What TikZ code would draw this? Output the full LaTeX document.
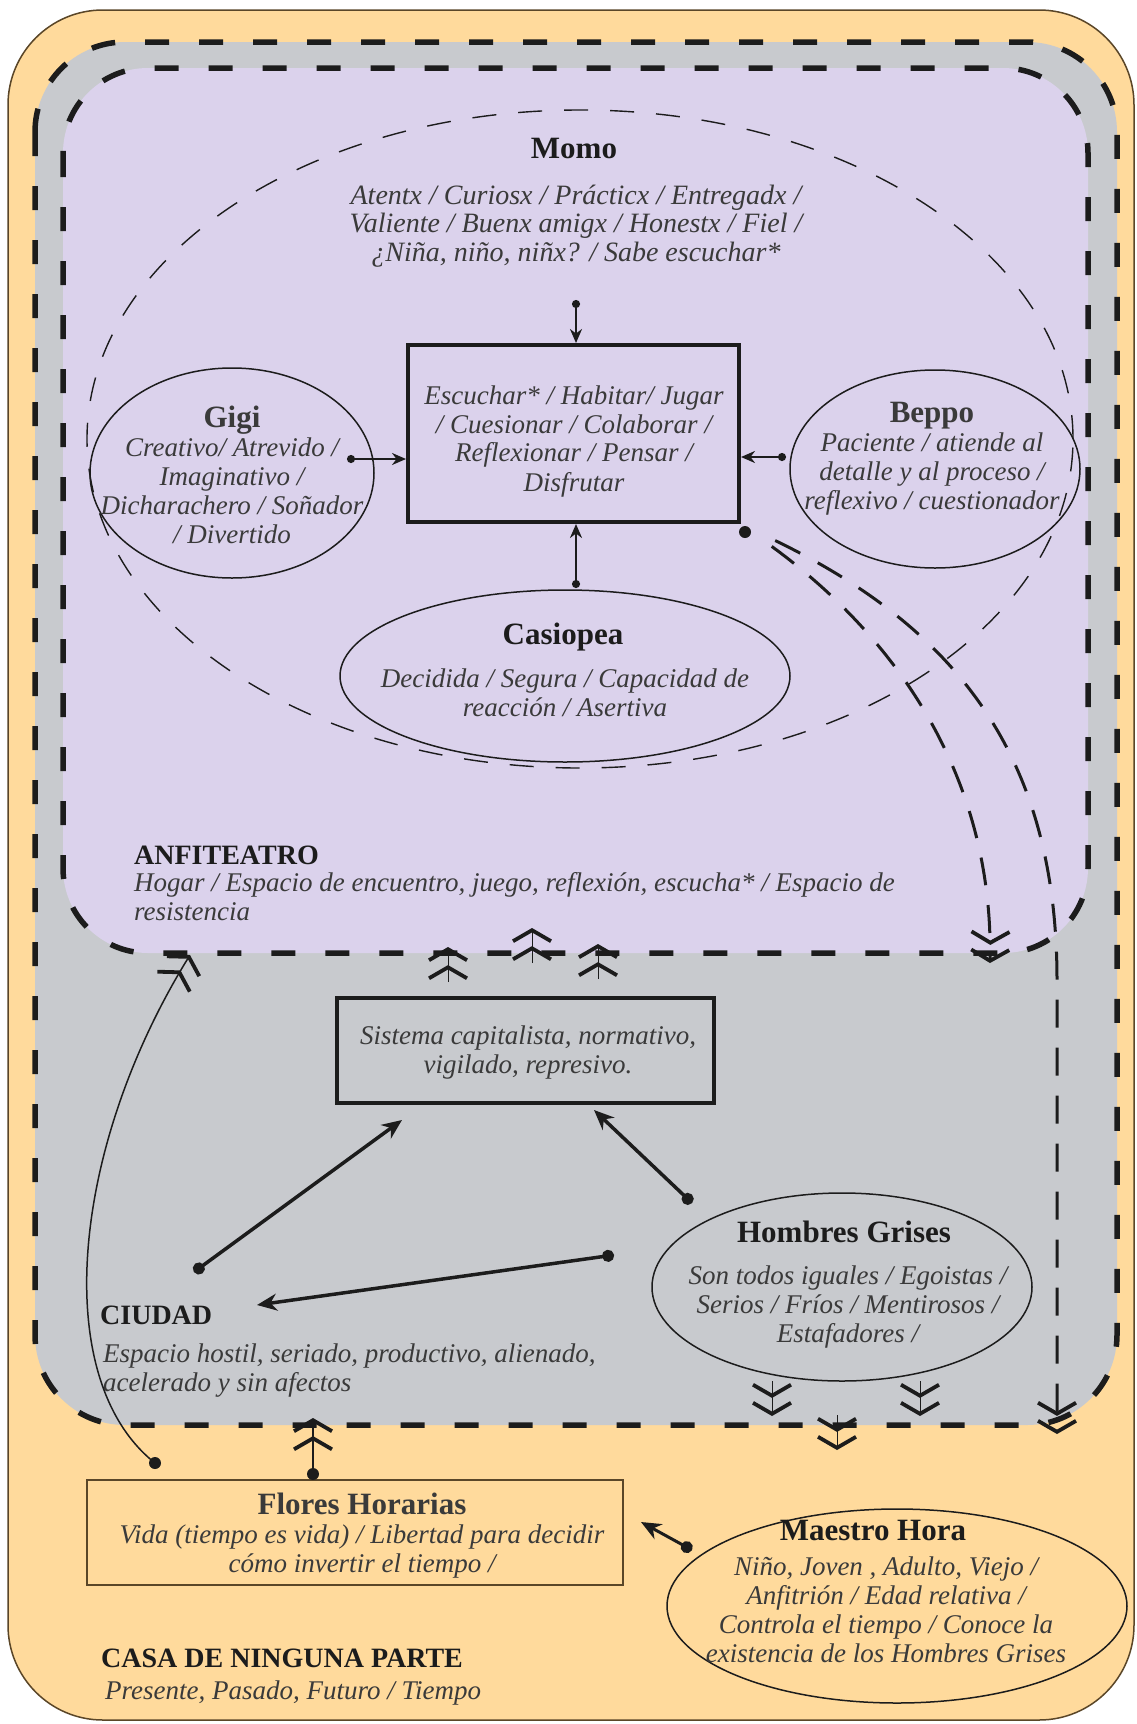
\documentclass[tikz,border=0pt]{standalone}
\usepackage{fontspec}
\setmainfont{Liberation Serif}
\usetikzlibrary{arrows.meta,shapes.geometric}
\definecolor{casa}{RGB}{255,218,156}
\definecolor{ciudadc}{RGB}{200,202,206}
\definecolor{anfi}{RGB}{219,210,236}
\definecolor{ink}{RGB}{28,28,28}
\definecolor{soft}{RGB}{58,58,58}
\definecolor{brownline}{RGB}{90,70,40}
\newcommand{\mybody}{\fontsize{27}{29}\selectfont\itshape}
\newcommand{\myname}{\fontsize{31}{33}\selectfont\bfseries\upshape}
\newcommand{\mycap}{\fontsize{28}{30}\selectfont\bfseries\upshape}
\tikzset{
  region/.style={draw=ink, line width=5.5pt, dash pattern=on 24pt off 30pt},
  emptyell/.style={ellipse, draw=ink, line width=1.5pt, inner sep=0pt},
  bodytxt/.style={font=\mybody, text=soft, align=center, inner sep=0pt},
  nametxt/.style={font=\myname, text=ink, inner sep=0pt},
  captxt/.style={font=\mycap, text=ink, inner sep=0pt, anchor=west},
  leftbody/.style={font=\mybody, text=soft, align=left, inner sep=0pt, anchor=west},
  thickbox/.style={rectangle, draw=ink, line width=4pt, inner sep=0pt},
  sarrow/.style={draw=ink, line width=2.5pt, {Circle[length=8pt]}-{Stealth[length=14pt,width=12pt]}},
  barrow/.style={draw=ink, line width=3.5pt, {Circle[length=12pt]}-{Stealth[length=20pt,width=17pt]}},
  chevs/.style={-{Straight Barb[length=11pt,width=38pt,line width=3.8pt,sep=3pt]Straight Barb[length=11pt,width=38pt,line width=3.8pt]}},
  stub/.style={draw=ink, line width=0.1pt, chevs},
  dcurve/.style={draw=ink, line width=3pt, dash pattern=on 28pt off 20pt},
}
\begin{document}
\begin{tikzpicture}[x=1pt,y=-1pt]
\useasboundingbox (0,0) rectangle (1136,1724);
\fill[white] (0,0) rectangle (1136,1724);
% regions
\draw[fill=casa, draw=brownline, line width=1.5pt, rounded corners=95pt] (8,10) rectangle (1134,1720);
\fill[ciudadc, rounded corners=90pt] (35,42) rectangle (1117,1425);
\fill[anfi, rounded corners=85pt] (63,68) rectangle (1088,953);
\draw[region, rounded corners=90pt] (35,42) rectangle (1117,1425);
\draw[region, rounded corners=85pt] (63,68) rectangle (1088,953);

% Momo
\node[emptyell, minimum width=986pt, minimum height=658pt, line width=1.4pt, dash pattern=on 24pt off 22pt] (momo) at (580,439) {};
\node[nametxt] (momot) at (574,148) {Momo};
\node[bodytxt, font=\fontsize{28}{28.5}\selectfont\itshape] (momotxt) at (576,226) {Atentx / Curiosx / Prácticx / Entregadx /\\ Valiente / Buenx amigx / Honestx / Fiel /\\ ¿Niña, niño, niñx? / Sabe escuchar*};

% central box
\node[thickbox, minimum width=331pt, minimum height=177pt] (act) at (573.5,433.5) {};
\node[bodytxt] (acttxt) at (574,441) {Escuchar* / Habitar/ Jugar\\ / Cuesionar / Colaborar /\\ Reflexionar / Pensar /\\ Disfrutar};

% Gigi
\node[emptyell, minimum width=284pt, minimum height=210pt] (gigi) at (232,473) {};
\node[bodytxt] (gigitxt) at (232,475) {{\myname Gigi}\\ Creativo/ Atrevido /\\ Imaginativo /\\ Dicharachero / Soñador\\ / Divertido};

% Beppo
\node[emptyell, minimum width=290pt, minimum height=198pt] (beppo) at (935,469) {};
\node[bodytxt] (beppotxt) at (932,459) {{\myname Beppo}\\ Paciente / atiende al\\ detalle y al proceso /\\ reflexivo / cuestionador};

% Casiopea
\node[emptyell, minimum width=450pt, minimum height=172pt] (casio) at (565,676) {};
\node[nametxt] (casiot) at (563,637) {Casiopea};
\node[bodytxt] (casiotxt) at (565,693) {Decidida / Segura / Capacidad de\\ reacción / Asertiva};

% ANFITEATRO
\node[captxt] (anfit) at (134,855) {ANFITEATRO};
\node[leftbody] (anfitxt) at (134,897) {Hogar / Espacio de encuentro, juego, reflexión, escucha* / Espacio de\\ resistencia};

% Sistema
\node[thickbox, minimum width=377pt, minimum height=105pt] (sis) at (525.5,1050.5) {};
\node[bodytxt] (sistxt) at (528,1052) {Sistema capitalista, normativo,\\ vigilado, represivo.};

% Hombres Grises
\node[emptyell, minimum width=380pt, minimum height=188pt] (hg) at (842,1287) {};
\node[nametxt] (hgt) at (844,1232) {Hombres Grises};
\node[bodytxt] (hgtxt) at (848,1307) {Son todos iguales / Egoistas /\\ Serios / Fríos / Mentirosos /\\ Estafadores /};

% CIUDAD
\node[captxt] (ciut) at (100,1315) {CIUDAD};
\node[leftbody] (ciutxt) at (103,1371) {Espacio hostil, seriado, productivo, alienado,\\ acelerado y sin afectos};

% Flores Horarias
\node[rectangle, draw=brownline, line width=2pt, minimum width=536pt, minimum height=105pt, inner sep=0pt] (flo) at (355,1532.5) {};
\node[bodytxt] (flotxt) at (362,1536) {{\myname Flores Horarias}\\ Vida (tiempo es vida) / Libertad para decidir\\ cómo invertir el tiempo /};

% Maestro Hora
\node[emptyell, minimum width=460pt, minimum height=194pt] (mh) at (897,1606) {};
\node[nametxt] (mht) at (873,1530) {Maestro Hora};
\node[bodytxt] (mhtxt) at (886,1610) {Niño, Joven , Adulto, Viejo /\\ Anfitrión / Edad relativa /\\ Controla el tiempo / Conoce la\\ existencia de los Hombres Grises};

% CASA
\node[captxt] (casat) at (101,1658) {CASA DE NINGUNA PARTE};
\node[leftbody] (casatxt) at (105,1693) {Presente, Pasado, Futuro / Tiempo};

% arrows into central box
\coordinate (momodot) at (576,300);
\coordinate (gigidot) at (347,459);
\coordinate (beppodot) at (786,457);
\coordinate (casdot) at (576,588);
\draw[sarrow] (momodot) -- (momodot |- act.north);
\draw[sarrow] (gigidot) -- (gigidot -| act.west);
\draw[sarrow] (beppodot) -- (beppodot -| act.east);
\draw[sarrow] (casdot) -- (casdot |- act.south);

% dashed curves from central box corner
\coordinate (actdot) at (745,532);
\fill[ink] (actdot) circle (6pt);
\coordinate (end1) at (990,963);
\coordinate (bend2) at (1057,980);
\coordinate (end2) at (1057,1434);
\draw[dcurve, chevs, shorten <=38pt] (act.south east) .. controls (900,640) and (993,780) .. (end1);
\draw[dcurve, chevs, shorten <=38pt] (act.south east) .. controls (960,630) and (1057,760) .. (bend2) -- (end2);

% arrows in CIUDAD
\coordinate (ciudot) at (194,1272);
\coordinate (sisL) at (402,1120);
\coordinate (hgdot1) at (692,1203);
\coordinate (sisR) at (594,1110);
\coordinate (hgdot2) at (614,1255);
\coordinate (ciuend) at (257,1305);
\draw[barrow] (ciudot) -- (sisL);
\draw[barrow] (hgdot1) -- (sisR);
\draw[barrow] (hgdot2) -- (ciuend);

% Maestro Hora -> Flores
\coordinate (mhdot) at (692,1550);
\coordinate (floR) at (641,1522);
\draw[barrow, line width=3pt] (mhdot) -- (floR);

% Flores arrows
\coordinate (flodot1) at (313,1474);
\coordinate (floup) at (313,1418);
\fill[ink] (flodot1) circle (6pt);
\draw[draw=ink, line width=2pt, chevs] (flodot1) -- (floup);
\coordinate (flodot2) at (155,1463);
\coordinate (anfiin) at (190,955);
\fill[ink] (flodot2) circle (6pt);
\draw[draw=ink, line width=1.5pt, chevs] (flodot2) .. controls (50,1380) and (70,1150) .. (anfiin);

% chevron marks on the boundaries
\coordinate (u1a) at (448,982); \coordinate (u1b) at (448,947);
\coordinate (u2a) at (532,963); \coordinate (u2b) at (532,928);
\coordinate (u3a) at (598,979); \coordinate (u3b) at (598,944);
\draw[stub] (u1a) -- (u1b);
\draw[stub] (u2a) -- (u2b);
\draw[stub] (u3a) -- (u3b);
\coordinate (d1a) at (772,1381); \coordinate (d1b) at (772,1416);
\coordinate (d2a) at (837,1415); \coordinate (d2b) at (837,1450);
\coordinate (d3a) at (920,1381); \coordinate (d3b) at (920,1416);
\draw[stub] (d1a) -- (d1b);
\draw[stub] (d2a) -- (d2b);
\draw[stub] (d3a) -- (d3b);
\end{tikzpicture}
\end{document}
